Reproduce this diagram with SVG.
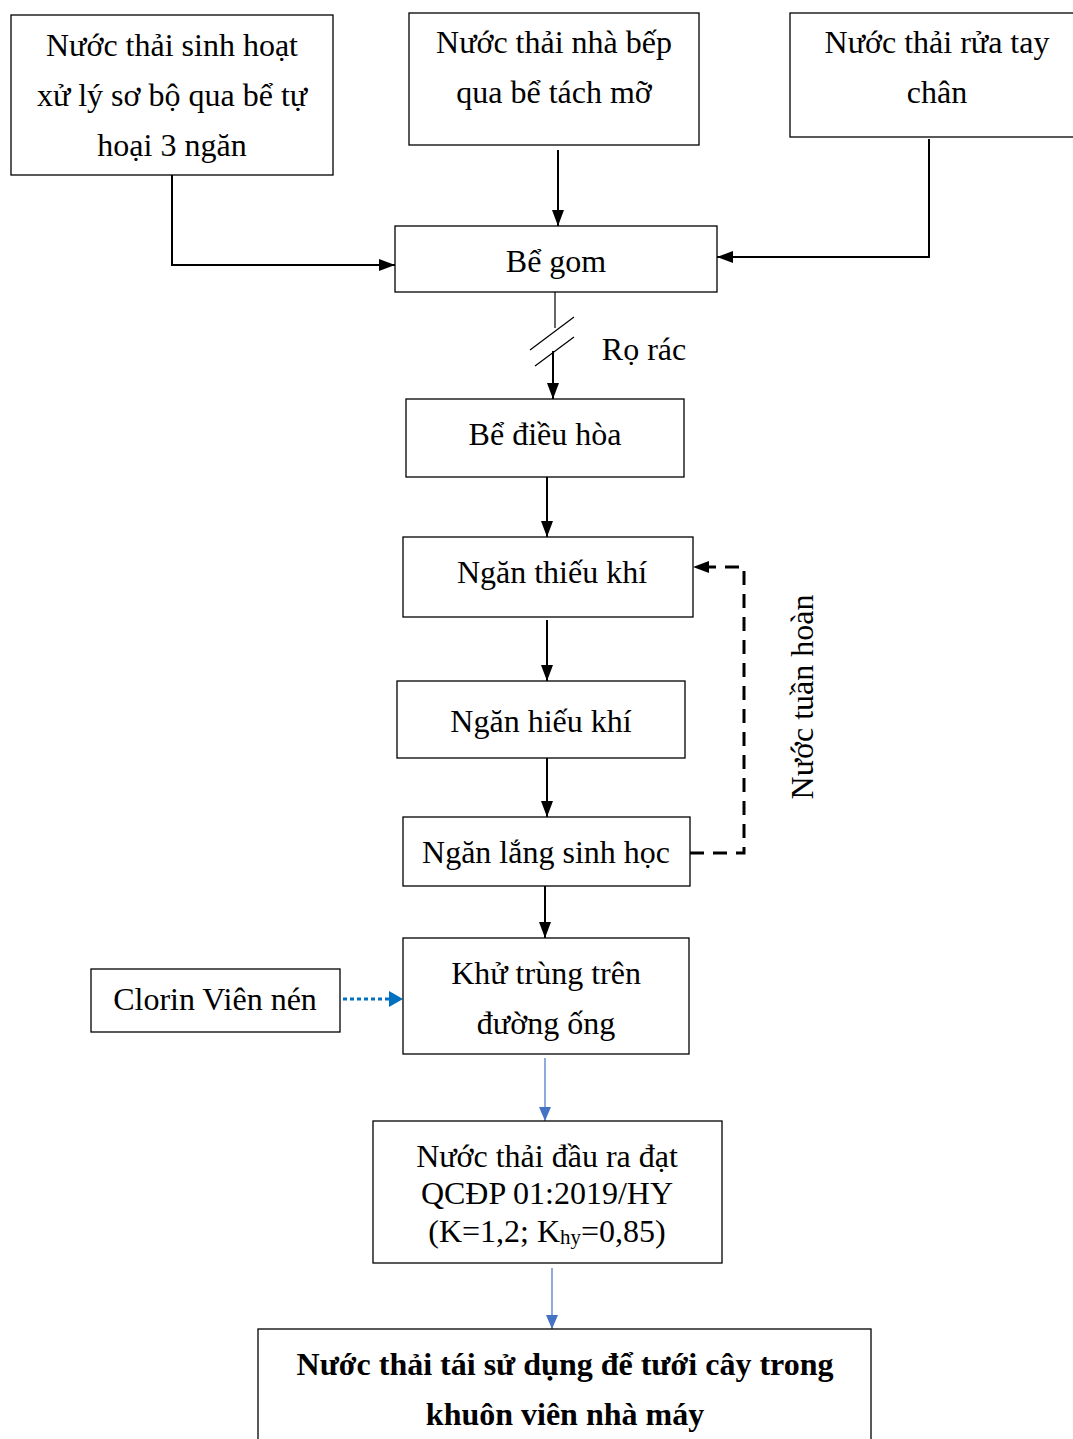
<svg xmlns="http://www.w3.org/2000/svg" width="1073" height="1439" viewBox="0 0 1073 1439">
<style>
.box{fill:#fff;stroke:#000;stroke-width:1.3}
.t{font-family:"Liberation Serif","Times New Roman",serif;font-size:32px;fill:#000;text-anchor:middle;dominant-baseline:central}
.tb{font-family:"Liberation Serif","Times New Roman",serif;font-size:32px;font-weight:bold;fill:#000;text-anchor:middle;dominant-baseline:central}
.ln{fill:none;stroke:#000;stroke-width:2}
.thin{fill:none;stroke:#000;stroke-width:1.2}
.blue{fill:none;stroke:#4472C4;stroke-width:1.2}
.dash{fill:none;stroke:#000;stroke-width:3;stroke-dasharray:14,9}
.dot{fill:none;stroke:#0070C0;stroke-width:3;stroke-dasharray:4,3}
</style>
<defs>
<marker id="ah" markerWidth="16" markerHeight="12" refX="16" refY="6" orient="auto" markerUnits="userSpaceOnUse"><path d="M0,0 L16,6 L0,12 Z" fill="#000"/></marker>
<marker id="ahb" markerWidth="14" markerHeight="12" refX="14" refY="6" orient="auto" markerUnits="userSpaceOnUse"><path d="M0,0 L14,6 L0,12 Z" fill="#4472C4"/></marker>
</defs>
<rect width="1073" height="1439" fill="#fff"/>
<g id="connectors">
<path class="ln" d="M172,175 V265 H395" marker-end="url(#ah)"/>
<path class="ln" d="M558,150 V226" marker-end="url(#ah)"/>
<path class="ln" d="M929,139 V257 H717" marker-end="url(#ah)"/>
<path class="thin" d="M555,292 V328"/>
<path class="thin" d="M530,350 L574,317 M535,366 L574,337"/>
<path class="ln" d="M553,351 V399" marker-end="url(#ah)"/>
<path class="ln" d="M547,477 V537" marker-end="url(#ah)"/>
<path class="ln" d="M547,620 V681" marker-end="url(#ah)"/>
<path class="ln" d="M547,758 V817" marker-end="url(#ah)"/>
<path class="ln" d="M545,886 V938" marker-end="url(#ah)"/>
<path class="dash" d="M690,853 H744 V567 H707"/>
<path d="M693,567 L709,561 L709,573 Z" fill="#000"/>
<path class="dot" d="M343,999 H390"/>
<path d="M389,991 L403,999 L389,1007 Z" fill="#0070C0"/>
<path class="blue" d="M545,1058 V1121" marker-end="url(#ahb)"/>
<path class="blue" d="M552,1268 V1329" marker-end="url(#ahb)"/>
<text class="t" x="644" y="349">Rọ rác</text>
<text class="t" transform="translate(802,697) rotate(-90)">Nước tuần hoàn</text>
</g>
<g id="n1"><rect class="box" x="11" y="15" width="322" height="160"/>
<text class="t" x="172" y="45">Nước thải sinh hoạt</text>
<text class="t" x="172" y="95">xử lý sơ bộ qua bể tự</text>
<text class="t" x="172" y="145">hoại 3 ngăn</text></g>
<g id="n2"><rect class="box" x="409" y="13" width="290" height="132"/>
<text class="t" x="554" y="42">Nước thải nhà bếp</text>
<text class="t" x="554" y="92">qua bể tách mỡ</text></g>
<g id="n3"><rect class="box" x="790" y="13" width="300" height="124"/>
<text class="t" x="937" y="42">Nước thải rửa tay</text>
<text class="t" x="937" y="92">chân</text></g>
<g id="n4"><rect class="box" x="395" y="226" width="322" height="66"/>
<text class="t" x="556" y="261">Bể gom</text></g>
<g id="n5"><rect class="box" x="406" y="399" width="278" height="78"/>
<text class="t" x="545" y="434">Bể điều hòa</text></g>
<g id="n6"><rect class="box" x="403" y="537" width="290" height="80"/>
<text class="t" x="552" y="572">Ngăn thiếu khí</text></g>
<g id="n7"><rect class="box" x="397" y="681" width="288" height="77"/>
<text class="t" x="541" y="721">Ngăn hiếu khí</text></g>
<g id="n8"><rect class="box" x="403" y="817" width="287" height="69"/>
<text class="t" x="546" y="852">Ngăn lắng sinh học</text></g>
<g id="n9"><rect class="box" x="403" y="938" width="286" height="116"/>
<text class="t" x="546" y="973">Khử trùng trên</text>
<text class="t" x="546" y="1023">đường ống</text></g>
<g id="n10"><rect class="box" x="91" y="969" width="249" height="63"/>
<text class="t" x="215" y="999">Clorin Viên nén</text></g>
<g id="n11"><rect class="box" x="373" y="1121" width="349" height="142"/>
<text class="t" x="547" y="1156">Nước thải đầu ra đạt</text>
<text class="t" x="547" y="1193">QCĐP 01:2019/HY</text>
<text class="t" x="547" y="1231">(K=1,2; K<tspan font-size="21" dy="6">hy</tspan><tspan dy="-6">=0,85)</tspan></text></g>
<g id="n12"><rect class="box" x="258" y="1329" width="613" height="130"/>
<text class="tb" x="565" y="1364">Nước thải tái sử dụng để tưới cây trong</text>
<text class="tb" x="565" y="1414">khuôn viên nhà máy</text></g>
</svg>
